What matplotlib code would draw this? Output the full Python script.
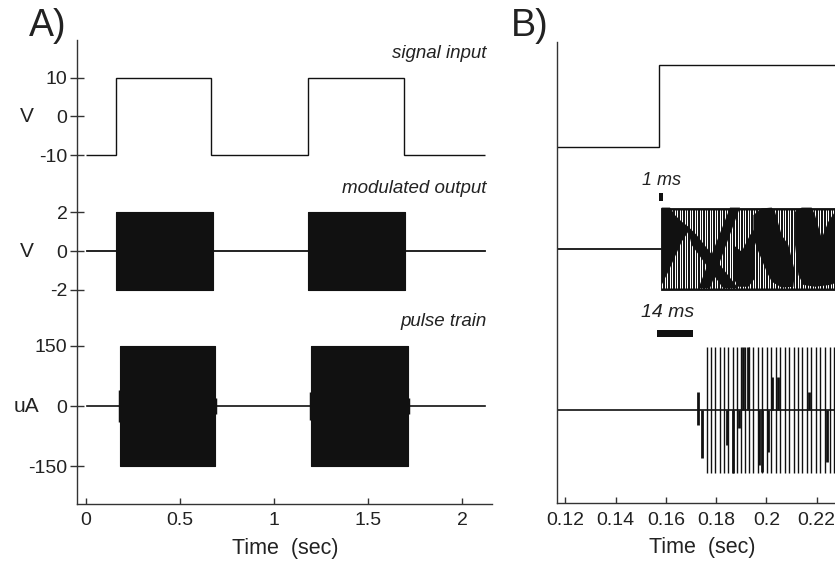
import numpy as np
import matplotlib.pyplot as plt
from matplotlib.patches import Rectangle

plt.rcParams['font.family'] = ['Liberation Sans', 'DejaVu Sans']

# ---------------- panel A : whole 2 s record ----------------
sig_a_t = [0.0, 0.16, 0.665, 1.18, 1.69, 2.12]     # switch times (s)
sig_a_v = [-10, 10, -10, 10, -10]                  # level between switches (V)

mod_a_on = [0.158, 1.179]                          # modulated burst start (s)
mod_a_off = [0.674, 1.697]                         # modulated burst end (s)
mod_a_amp = 2.0                                    # V

pulse_a_on = [0.179, 1.195]
pulse_a_off = [0.686, 1.711]
pulse_a_amp = 150.0                                # uA
pulse_a_edge_t = [0.179, 0.686, 1.195, 1.711]      # small artefacts at burst edges
pulse_a_edge_amp = [40, 20, 35, 20]
trace_a_start, trace_a_end = 0.005, 2.12

# ---------------- panel B : zoom on the first onset ----------------
sig_b_t = [0.1168, 0.1571, 0.2330]
sig_b_v = [-10, 10]

mod_b_on = 0.158
mod_b_amp = 2.0
mod_b_period = 0.001                               # carrier period, from the 1 ms bar
# solid black areas of the aliased carrier (t in s, V)
mod_b_black = [
    [(0.15833, 2.04), (0.16165, 2.04), (0.16363, 1.67), (0.16629, 1.35), (0.16894, 1.10),
     (0.17225, 0.69), (0.18883, -1.94), (0.18286, -1.94), (0.17026, 0.20),
     (0.16894, 0.85), (0.16629, 0.36), (0.16363, -0.38), (0.16098, -1.12), (0.15833, -1.77)],
    [(0.17292, -1.94), (0.17756, -1.94), (0.18949, 2.04), (0.18551, 2.04)],
    [(0.18684, 0.20), (0.19015, -0.13), (0.19347, 0.69), (0.19546, 1.02), (0.19546, -1.44),
     (0.19281, -1.86), (0.18883, -1.86), (0.18684, -1.44)],
    [(0.19480, 1.67), (0.19811, 2.00), (0.20209, 2.04), (0.20341, 1.84), (0.20606, 0.69),
     (0.20872, 0.20), (0.21137, -1.12), (0.21071, -1.86), (0.20606, -1.90), (0.20209, -1.61),
     (0.20010, -1.12), (0.19679, -0.13), (0.19480, 0.53)],
    [(0.21137, 1.84), (0.21402, 2.04), (0.21800, 2.04), (0.21933, 1.67), (0.22198, 0.53),
     (0.22463, 1.35), (0.22728, 1.84), (0.2330, 1.84), (0.2330, -1.44), (0.22530, -1.77),
     (0.21933, -1.86), (0.21469, -1.77), (0.21270, -1.28), (0.21137, 0.20)],
]

pulse_b_t = [0.1762, 0.1780, 0.1797, 0.1815, 0.1832, 0.1849, 0.1867, 0.1884,
             0.1900, 0.1916, 0.1932, 0.1948, 0.1966, 0.1984, 0.2002, 0.2020,
             0.2038, 0.2055, 0.2072, 0.2090, 0.2108, 0.2125, 0.2143, 0.2161,
             0.2179, 0.2197, 0.2215, 0.2233, 0.2251, 0.2269]
pulse_b_amp = 150.0
# partial / overlapping spikes drawn heavier (t, low uA, high uA)
spike_b_t = [0.1727, 0.1745, 0.1842, 0.1866, 0.1889, 0.1908, 0.1925, 0.1969,
             0.1982, 0.2005, 0.2022, 0.2045, 0.2168, 0.2241]
spike_b_lo = [-36, -115, -83, -150, -44, 0, 0, -131, -147, -99, 0, 0, 0, -123]
spike_b_hi = [44, 0, 0, 0, 0, 150, 150, 0, 0, 0, 79, 79, 44, 0]

# vertical placement of the stacked traces (baseline, units per V or uA)
place_a = {'sig': (387.6, 3.87), 'mod': (253.0, 19.4), 'pulse': (98.0, 0.403)}
place_b = {'sig': (397.5, 4.07), 'mod': (254.5, 20.3), 'pulse': (93.5, 0.42)}


def yk(v, place):
    base, gain = place
    return base + gain * np.asarray(v, dtype=float)


ink = '#111111'
txt = '#222222'
fs_tick = 14
fs_lab = 15.5
fs_name = 13.5

fig = plt.figure(figsize=(8.35, 5.61), dpi=100)
axA = fig.add_axes([0.0926, 0.1016, 0.497, 0.827])
axB = fig.add_axes([0.6674, 0.1025, 0.347, 0.8226])

for ax in (axA, axB):
    for s in ('top', 'right'):
        ax.spines[s].set_visible(False)
    for s in ('left', 'bottom'):
        ax.spines[s].set_linewidth(1.0)
        ax.spines[s].set_color('#333333')
    ax.tick_params(axis='x', direction='in', length=4, width=1, pad=6,
                   labelsize=fs_tick, colors='#333333', labelcolor=txt)

# ---- panel A ----
axA.stairs(yk(sig_a_v, place_a['sig']), sig_a_t, baseline=None, color=ink, lw=1.0)

axA.plot([trace_a_start, trace_a_end], yk([0, 0], place_a['mod']), color=ink, lw=1.3)
for on, off in zip(mod_a_on, mod_a_off):
    axA.fill_between([on, off], yk(-mod_a_amp, place_a['mod']),
                     yk(mod_a_amp, place_a['mod']), color=ink, lw=0.8)

axA.plot([trace_a_start, trace_a_end], yk([0, 0], place_a['pulse']), color=ink, lw=1.2)
for on, off in zip(pulse_a_on, pulse_a_off):
    axA.fill_between([on, off], yk(-pulse_a_amp, place_a['pulse']),
                     yk(pulse_a_amp, place_a['pulse']), color=ink, lw=0.8)
axA.vlines(pulse_a_edge_t, yk(-np.array(pulse_a_edge_amp), place_a['pulse']),
           yk(pulse_a_edge_amp, place_a['pulse']), color=ink, lw=2.5)

ticks_a = list(yk([10, 0, -10], place_a['sig'])) + list(yk([2, 0, -2], place_a['mod'])) \
    + list(yk([150, 0, -150], place_a['pulse']))
labels_a = ['10', '0', '-10', '2', '0', '-2', '150', '0', '-150']
axA.set_yticks(ticks_a)
axA.set_yticklabels(labels_a)
axA.tick_params(axis='y', direction='inout', length=10, width=1, pad=2,
                labelsize=fs_tick, colors='#333333', labelcolor=txt)
axA.set_xlim(-0.0463, 2.161)
axA.set_ylim(0, 464)
axA.set_xticks([0, 0.5, 1, 1.5, 2])
axA.set_xticklabels(['0', '0.5', '1', '1.5', '2'])
axA.set_xlabel('Time  (sec)', fontsize=fs_lab, color=txt, labelpad=6)

ytr = axA.get_yaxis_transform()
for name, unit in (('sig', 'V'), ('mod', 'V'), ('pulse', 'uA')):
    axA.text(-0.122, yk(0, place_a[name]), unit, transform=ytr, ha='center', va='center',
             fontsize=15, color=txt)

for name, label in (('sig', 'signal input'), ('mod', 'modulated output'),
                    ('pulse', 'pulse train')):
    amp = {'sig': 10, 'mod': 2, 'pulse': 150}[name]
    axA.text(2.13, yk(amp, place_a[name]) + 24, label, ha='right', va='center',
             fontsize=fs_name, style='italic', color=txt)

# ---- panel B ----
axB.stairs(yk(sig_b_v, place_b['sig']), sig_b_t, baseline=None, color=ink, lw=1.0)

axB.plot([0.1168, mod_b_on], yk([0, 0], place_b['mod']), color=ink, lw=1.3)
axB.fill_between([mod_b_on, 0.2330], yk(-mod_b_amp, place_b['mod']),
                 yk(mod_b_amp, place_b['mod']), color=ink, lw=0.6)
gap_t = np.arange(mod_b_on + mod_b_period / 2, 0.2330, mod_b_period)
axB.vlines(gap_t, yk(-mod_b_amp, place_b['mod']) + 1.5, yk(mod_b_amp, place_b['mod']) - 1.5,
           color='white', lw=0.75, zorder=3)
for poly in mod_b_black:
    pt, pv = zip(*poly)
    axB.fill(pt, yk(pv, place_b['mod']), color=ink, lw=0, zorder=4)

axB.plot([0.1168, 0.2330], yk([0, 0], place_b['pulse']), color=ink, lw=1.2)
axB.vlines(pulse_b_t, yk(-pulse_b_amp, place_b['pulse']), yk(pulse_b_amp, place_b['pulse']),
           color=ink, lw=1.0)
axB.vlines(spike_b_t, yk(spike_b_lo, place_b['pulse']), yk(spike_b_hi, place_b['pulse']),
           color=ink, lw=2.0)

# scale bars
axB.add_patch(Rectangle((0.15745, 302.5), 0.0015, 8, color=ink, lw=0))
axB.text(0.1583, 323.5, '1 ms', ha='center', va='center', fontsize=13, style='italic',
         color=txt)
axB.add_patch(Rectangle((0.1564, 166.5), 0.0145, 7, color=ink, lw=0))
axB.text(0.1608, 191.5, '14 ms', ha='center', va='center', fontsize=14, style='italic',
         color=txt)

axB.set_xlim(0.11682, 0.23205)
axB.set_ylim(0, 461.5)
axB.set_yticks([])
axB.set_xticks([0.12, 0.14, 0.16, 0.18, 0.2, 0.22])
axB.set_xticklabels(['0.12', '0.14', '0.16', '0.18', '0.2', '0.22'])
axB.set_xlabel('Time  (sec)', fontsize=fs_lab, color=txt, labelpad=6)

fig.text(29 / 835, 1 - 36 / 561, 'A)', fontsize=27, color=txt, ha='left', va='baseline')
fig.text(511 / 835, 1 - 36 / 561, 'B)', fontsize=27, color=txt, ha='left', va='baseline')

fig.savefig('out.png', dpi=100)
